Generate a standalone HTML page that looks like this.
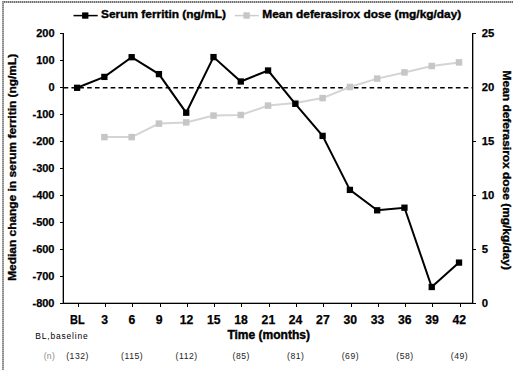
<!DOCTYPE html><html><head><meta charset="utf-8"><style>html,body{margin:0;padding:0;background:#fff;}svg{display:block;}text{font-family:"Liberation Sans",sans-serif;}text[font-weight=bold]{stroke:#000;stroke-width:0.25px;}</style></head><body>
<svg width="520" height="377" viewBox="0 0 520 377">
<rect width="520" height="377" fill="#fff"/>
<line x1="2" y1="2" x2="513" y2="2" stroke="#b4b4b4" stroke-width="2"/>
<line x1="2" y1="2" x2="513" y2="2" stroke="#707070" stroke-width="2" stroke-dasharray="1 1"/>
<line x1="3" y1="1" x2="3" y2="370" stroke="#b0b0b0" stroke-width="2"/>
<line x1="3" y1="1" x2="3" y2="370" stroke="#8c8c8c" stroke-width="2" stroke-dasharray="1 1"/>
<g stroke="#000" stroke-width="1" shape-rendering="crispEdges">
<line x1="63.5" y1="33" x2="63.5" y2="304"/>
<line x1="472.5" y1="33" x2="472.5" y2="304"/>
<line x1="60" y1="303.5" x2="476" y2="303.5"/>
<line x1="62.5" y1="33" x2="62.5" y2="303" stroke="#000" stroke-opacity="0.35"/>
<line x1="473.5" y1="33" x2="473.5" y2="303" stroke="#000" stroke-opacity="0.35"/>
<line x1="63" y1="302.5" x2="472" y2="302.5" stroke="#000" stroke-opacity="0.3"/>
<line x1="60" y1="33.5" x2="63" y2="33.5"/>
<line x1="60" y1="60.5" x2="63" y2="60.5"/>
<line x1="60" y1="87.5" x2="63" y2="87.5"/>
<line x1="60" y1="114.5" x2="63" y2="114.5"/>
<line x1="60" y1="141.5" x2="63" y2="141.5"/>
<line x1="60" y1="168.5" x2="63" y2="168.5"/>
<line x1="60" y1="195.5" x2="63" y2="195.5"/>
<line x1="60" y1="222.5" x2="63" y2="222.5"/>
<line x1="60" y1="249.5" x2="63" y2="249.5"/>
<line x1="60" y1="276.5" x2="63" y2="276.5"/>
<line x1="60" y1="303.5" x2="63" y2="303.5"/>
<line x1="473" y1="33.5" x2="476" y2="33.5"/>
<line x1="473" y1="141.5" x2="476" y2="141.5"/>
<line x1="473" y1="195.5" x2="476" y2="195.5"/>
<line x1="473" y1="249.5" x2="476" y2="249.5"/>
<line x1="473" y1="303.5" x2="476" y2="303.5"/>
<line x1="78.5" y1="304" x2="78.5" y2="307"/>
<line x1="105.5" y1="304" x2="105.5" y2="307"/>
<line x1="132.5" y1="304" x2="132.5" y2="307"/>
<line x1="160.5" y1="304" x2="160.5" y2="307"/>
<line x1="187.5" y1="304" x2="187.5" y2="307"/>
<line x1="214.5" y1="304" x2="214.5" y2="307"/>
<line x1="241.5" y1="304" x2="241.5" y2="307"/>
<line x1="269.5" y1="304" x2="269.5" y2="307"/>
<line x1="296.5" y1="304" x2="296.5" y2="307"/>
<line x1="323.5" y1="304" x2="323.5" y2="307"/>
<line x1="351.5" y1="304" x2="351.5" y2="307"/>
<line x1="378.5" y1="304" x2="378.5" y2="307"/>
<line x1="405.5" y1="304" x2="405.5" y2="307"/>
<line x1="432.5" y1="304" x2="432.5" y2="307"/>
<line x1="460.5" y1="304" x2="460.5" y2="307"/>
</g>
<line x1="64" y1="87.7" x2="472" y2="87.7" stroke="#000" stroke-width="1.5" stroke-dasharray="4.6 3.245" stroke-dashoffset="0.4"/>
<polyline points="104.4,137.1 131.7,137.1 158.9,123.6 186.2,122.4 213.5,115.6 240.8,115.0 268.1,105.6 295.3,103.0 322.6,98.1 349.9,87.0 377.2,78.6 404.5,72.4 431.7,66.0 459.0,62.4" fill="none" stroke="#d4d4d4" stroke-width="2"/>
<rect x="101.13" y="133.85" width="6.5" height="6.5" fill="#c6c6c6"/>
<rect x="128.41" y="133.85" width="6.5" height="6.5" fill="#c6c6c6"/>
<rect x="155.69" y="120.35" width="6.5" height="6.5" fill="#c6c6c6"/>
<rect x="182.97" y="119.15" width="6.5" height="6.5" fill="#c6c6c6"/>
<rect x="210.25" y="112.35" width="6.5" height="6.5" fill="#c6c6c6"/>
<rect x="237.53" y="111.75" width="6.5" height="6.5" fill="#c6c6c6"/>
<rect x="264.81" y="102.35" width="6.5" height="6.5" fill="#c6c6c6"/>
<rect x="292.09" y="99.75" width="6.5" height="6.5" fill="#c6c6c6"/>
<rect x="319.37" y="94.85" width="6.5" height="6.5" fill="#c6c6c6"/>
<rect x="346.65" y="83.75" width="6.5" height="6.5" fill="#c6c6c6"/>
<rect x="373.93" y="75.35" width="6.5" height="6.5" fill="#c6c6c6"/>
<rect x="401.21" y="69.15" width="6.5" height="6.5" fill="#c6c6c6"/>
<rect x="428.49" y="62.75" width="6.5" height="6.5" fill="#c6c6c6"/>
<rect x="455.77" y="59.15" width="6.5" height="6.5" fill="#c6c6c6"/>
<polyline points="77.1,87.8 104.4,76.9 131.7,57.2 158.9,74.1 186.2,112.7 213.5,57.1 240.8,81.5 268.1,70.5 295.3,103.8 322.6,135.9 349.9,189.9 377.2,210.3 404.5,207.7 431.7,287 459.0,262.6" fill="none" stroke="#000" stroke-width="2"/>
<rect x="73.95" y="84.65" width="6.3" height="6.3" fill="#000"/>
<rect x="101.23" y="73.75" width="6.3" height="6.3" fill="#000"/>
<rect x="128.51" y="54.05" width="6.3" height="6.3" fill="#000"/>
<rect x="155.79" y="70.95" width="6.3" height="6.3" fill="#000"/>
<rect x="183.07" y="109.55" width="6.3" height="6.3" fill="#000"/>
<rect x="210.35" y="53.95" width="6.3" height="6.3" fill="#000"/>
<rect x="237.63" y="78.35" width="6.3" height="6.3" fill="#000"/>
<rect x="264.91" y="67.35" width="6.3" height="6.3" fill="#000"/>
<rect x="292.19" y="100.65" width="6.3" height="6.3" fill="#000"/>
<rect x="319.47" y="132.75" width="6.3" height="6.3" fill="#000"/>
<rect x="346.75" y="186.75" width="6.3" height="6.3" fill="#000"/>
<rect x="374.03" y="207.15" width="6.3" height="6.3" fill="#000"/>
<rect x="401.31" y="204.55" width="6.3" height="6.3" fill="#000"/>
<rect x="428.59" y="283.85" width="6.3" height="6.3" fill="#000"/>
<rect x="455.87" y="259.45" width="6.3" height="6.3" fill="#000"/>
<text x="54.5" y="37" text-anchor="end" font-size="11" font-weight="bold">200</text>
<text x="54.5" y="64" text-anchor="end" font-size="11" font-weight="bold">100</text>
<text x="54.5" y="91" text-anchor="end" font-size="11" font-weight="bold">0</text>
<text x="54.5" y="118" text-anchor="end" font-size="11" font-weight="bold">-100</text>
<text x="54.5" y="145" text-anchor="end" font-size="11" font-weight="bold">-200</text>
<text x="54.5" y="172" text-anchor="end" font-size="11" font-weight="bold">-300</text>
<text x="54.5" y="199" text-anchor="end" font-size="11" font-weight="bold">-400</text>
<text x="54.5" y="226" text-anchor="end" font-size="11" font-weight="bold">-500</text>
<text x="54.5" y="253" text-anchor="end" font-size="11" font-weight="bold">-600</text>
<text x="54.5" y="280" text-anchor="end" font-size="11" font-weight="bold">-700</text>
<text x="54.5" y="307" text-anchor="end" font-size="11" font-weight="bold">-800</text>
<text x="481.8" y="37" font-size="11.3" font-weight="bold">25</text>
<text x="481.8" y="91" font-size="11.3" font-weight="bold">20</text>
<text x="481.8" y="145" font-size="11.3" font-weight="bold">15</text>
<text x="481.8" y="199" font-size="11.3" font-weight="bold">10</text>
<text x="481.8" y="253" font-size="11.3" font-weight="bold">5</text>
<text x="481.8" y="307" font-size="11.3" font-weight="bold">0</text>
<text x="77.4" y="323.6" text-anchor="middle" font-size="12.2" font-weight="bold" textLength="14.6" lengthAdjust="spacingAndGlyphs">BL</text>
<text x="104.7" y="323.6" text-anchor="middle" font-size="12.2" font-weight="bold">3</text>
<text x="132.0" y="323.6" text-anchor="middle" font-size="12.2" font-weight="bold">6</text>
<text x="159.2" y="323.6" text-anchor="middle" font-size="12.2" font-weight="bold">9</text>
<text x="186.5" y="323.6" text-anchor="middle" font-size="12.2" font-weight="bold">12</text>
<text x="213.8" y="323.6" text-anchor="middle" font-size="12.2" font-weight="bold">15</text>
<text x="241.1" y="323.6" text-anchor="middle" font-size="12.2" font-weight="bold">18</text>
<text x="268.4" y="323.6" text-anchor="middle" font-size="12.2" font-weight="bold">21</text>
<text x="295.6" y="323.6" text-anchor="middle" font-size="12.2" font-weight="bold">24</text>
<text x="322.9" y="323.6" text-anchor="middle" font-size="12.2" font-weight="bold">27</text>
<text x="350.2" y="323.6" text-anchor="middle" font-size="12.2" font-weight="bold">30</text>
<text x="377.5" y="323.6" text-anchor="middle" font-size="12.2" font-weight="bold">33</text>
<text x="404.8" y="323.6" text-anchor="middle" font-size="12.2" font-weight="bold">36</text>
<text x="432.0" y="323.6" text-anchor="middle" font-size="12.2" font-weight="bold">39</text>
<text x="459.3" y="323.6" text-anchor="middle" font-size="12.2" font-weight="bold">42</text>
<text x="227.4" y="339" font-size="12" font-weight="bold" style="stroke-width:0.4px" textLength="82.6" lengthAdjust="spacingAndGlyphs">Time (months)</text>
<text x="35.2" y="339.4" font-size="8.5" textLength="52.5" lengthAdjust="spacing">BL,baseline</text>
<text x="43.7" y="359.4" font-size="8.6" fill="#8c8c8c" letter-spacing="0.3">(n)</text>
<text x="77.6" y="359.4" text-anchor="middle" font-size="8.6" letter-spacing="0.55" fill="#222">(132)</text>
<text x="132.2" y="359.4" text-anchor="middle" font-size="8.6" letter-spacing="0.55" fill="#222">(115)</text>
<text x="186.7" y="359.4" text-anchor="middle" font-size="8.6" letter-spacing="0.55" fill="#222">(112)</text>
<text x="241.3" y="359.4" text-anchor="middle" font-size="8.6" letter-spacing="0.55" fill="#222">(85)</text>
<text x="295.8" y="359.4" text-anchor="middle" font-size="8.6" letter-spacing="0.55" fill="#222">(81)</text>
<text x="350.4" y="359.4" text-anchor="middle" font-size="8.6" letter-spacing="0.55" fill="#222">(69)</text>
<text x="405.0" y="359.4" text-anchor="middle" font-size="8.6" letter-spacing="0.55" fill="#222">(58)</text>
<text x="459.5" y="359.4" text-anchor="middle" font-size="8.6" letter-spacing="0.55" fill="#222">(49)</text>
<text transform="translate(16,280.8) rotate(-90)" x="0" y="0" font-size="11.5" font-weight="bold" style="stroke-width:0.35px" textLength="227" lengthAdjust="spacingAndGlyphs">Median change in serum ferritin (ng/mL)</text>
<text transform="translate(503,70.6) rotate(90)" x="0" y="0" font-size="11.5" font-weight="bold" style="stroke-width:0.35px" textLength="199.5" lengthAdjust="spacingAndGlyphs">Mean deferasirox dose (mg/kg/day)</text>
<line x1="73.5" y1="15.6" x2="97.7" y2="15.6" stroke="#000" stroke-width="1.5"/>
<rect x="82.1" y="12.4" width="6.3" height="6.3" fill="#000"/>
<text x="101" y="17.8" font-size="10.5" font-weight="bold" style="stroke-width:0.35px" textLength="125" lengthAdjust="spacingAndGlyphs">Serum ferritin (ng/mL)</text>
<line x1="234.8" y1="15.6" x2="258.8" y2="15.6" stroke="#cdcdcd" stroke-width="1.5"/>
<rect x="243.4" y="12.3" width="6.4" height="6.4" fill="#c6c6c6"/>
<text x="262.3" y="17.8" font-size="10.5" font-weight="bold" style="stroke-width:0.35px" textLength="199" lengthAdjust="spacingAndGlyphs">Mean deferasirox dose (mg/kg/day)</text>
</svg></body></html>
